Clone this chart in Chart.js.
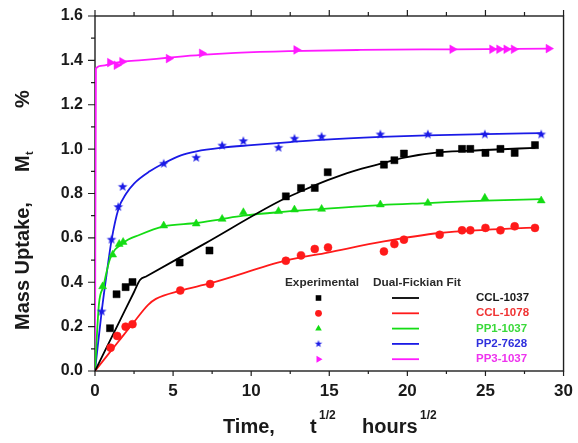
<!DOCTYPE html>
<html>
<head>
<meta charset="utf-8">
<title>Mass uptake vs sqrt(time)</title>
<script src="https://cdn.jsdelivr.net/npm/chart.js@4.4.0/dist/chart.umd.min.js"></script>
<style>
  html, body { margin: 0; padding: 0; background: #fff; }
  #wrap { width: 578px; height: 443px; position: relative; }
</style>
</head>
<body>
<div id="wrap"><canvas id="uptakeChart"></canvas></div>
<script>
// Experimental points: x = t^1/2 (hours^1/2), y = Mt (%)
const ccl1037X = [0.96, 1.38, 1.96, 2.40, 5.42, 7.33, 12.22, 13.19, 14.07, 14.90, 18.50, 19.17, 19.78, 22.07, 23.50, 24.03, 25.00, 25.96, 26.87, 28.17];
const ccl1037Y = [0.193, 0.346, 0.378, 0.401, 0.489, 0.543, 0.787, 0.825, 0.825, 0.896, 0.930, 0.950, 0.980, 0.983, 1.001, 1.001, 0.983, 1.001, 0.983, 1.018];

const ccl1078X = [1.00, 1.42, 1.96, 2.40, 5.46, 7.37, 12.22, 13.19, 14.07, 14.92, 18.50, 19.17, 19.78, 22.07, 23.50, 24.03, 25.00, 25.96, 26.87, 28.17];
const ccl1078Y = [0.105, 0.158, 0.200, 0.211, 0.363, 0.392, 0.497, 0.521, 0.550, 0.557, 0.539, 0.572, 0.592, 0.614, 0.634, 0.634, 0.645, 0.634, 0.652, 0.645];

const pp1X = [0.49, 1.13, 1.55, 1.80, 4.40, 6.48, 8.14, 9.50, 11.75, 12.77, 14.51, 18.27, 21.31, 24.96, 28.57];
const pp1Y = [0.381, 0.524, 0.572, 0.581, 0.655, 0.664, 0.685, 0.715, 0.720, 0.727, 0.730, 0.750, 0.757, 0.780, 0.768];

const pp2X = [0.43, 1.06, 1.49, 1.77, 4.40, 6.48, 8.14, 9.50, 11.75, 12.77, 14.51, 18.27, 21.31, 24.96, 28.57];
const pp2Y = [0.268, 0.592, 0.739, 0.830, 0.934, 0.961, 1.016, 1.036, 1.006, 1.047, 1.056, 1.066, 1.066, 1.066, 1.066];

const pp3X = [0.96, 1.38, 1.74, 4.72, 6.84, 12.89, 22.88, 25.43, 25.88, 26.34, 26.81, 29.04];
const pp3Y = [1.390, 1.378, 1.394, 1.408, 1.432, 1.447, 1.450, 1.450, 1.450, 1.450, 1.450, 1.453];

// Dual-Fickian fit curves
const ccl1037FitX = [0, 1.5, 2.5, 2.88, 3.3, 7, 11.8, 13.2, 14.9, 16.5, 18.5, 19.8, 22, 25, 28.2];
const ccl1037FitY = [0, 0.2135, 0.356, 0.41, 0.427, 0.573, 0.765, 0.81, 0.86, 0.90, 0.938, 0.962, 0.985, 0.996, 1.006];

const ccl1078FitX = [0, 1.5, 2.6, 3.4, 3.9, 5.45, 7.4, 12.2, 14.9, 18.5, 22.07, 25, 28.4];
const ccl1078FitY = [0, 0.133, 0.23, 0.298, 0.325, 0.362, 0.396, 0.497, 0.534, 0.584, 0.622, 0.636, 0.647];

const pp1FitX = [0, 0.25, 0.53, 0.96, 1.8, 2.87, 4.4, 6.5, 8.1, 9.5, 11.8, 14.5, 18.3, 21.3, 25, 28.6];
const pp1FitY = [0, 0.30, 0.38, 0.505, 0.577, 0.614, 0.652, 0.667, 0.685, 0.70, 0.716, 0.73, 0.748, 0.757, 0.768, 0.775];

const pp2FitX = [0, 0.43, 0.75, 1.06, 1.5, 2.0, 2.5, 3.5, 4.4, 5.5, 6.5, 8.1, 10, 12.5, 14.5, 18.3, 21.3, 25, 28.6];
const pp2FitY = [0, 0.27, 0.44, 0.59, 0.73, 0.80, 0.845, 0.90, 0.936, 0.972, 0.99, 1.006, 1.018, 1.032, 1.042, 1.055, 1.062, 1.068, 1.072];

const pp3FitX = [0, 0.06, 0.5, 1, 1.8, 3, 4.8, 6.8, 9, 12.4, 17, 23, 29];
const pp3FitY = [0, 1.364, 1.376, 1.384, 1.394, 1.401, 1.413, 1.425, 1.434, 1.442, 1.447, 1.450, 1.453];

const seriesNames = ['CCL-1037', 'CCL-1078', 'PP1-1037', 'PP2-7628', 'PP3-1037'];
const xTickValues = [0, 5, 10, 15, 20, 25, 30];
const yTickValues = [0, 0.2, 0.4, 0.6, 0.8, 1.0, 1.2, 1.4, 1.6];

const expX = [ccl1037X, ccl1078X, pp1X, pp2X, pp3X];
const expY = [ccl1037Y, ccl1078Y, pp1Y, pp2Y, pp3Y];
const fitX = [ccl1037FitX, ccl1078FitX, pp1FitX, pp2FitX, pp3FitX];
const fitY = [ccl1037FitY, ccl1078FitY, pp1FitY, pp2FitY, pp3FitY];

const lineColors = ['#000000', '#ff1a1a', '#14dc14', '#1a1ae6', '#ff1aff'];
const labelColors = ['#1a1a1a', '#f03434', '#3ad93a', '#3030dd', '#ee33ee'];
const FONT = "'Liberation Sans', Arial, Helvetica, sans-serif";

// filled five point star, used as a point image
function makeStar(outer, inner, color) {
    const size = Math.ceil(outer * 2) + 2;
    const c = document.createElement('canvas');
    c.width = size;
    c.height = size;
    const g = c.getContext('2d');
    g.fillStyle = color;
    g.beginPath();
    for (let i = 0; i < 10; i++) {
        const r = i % 2 === 0 ? outer : inner;
        const a = -Math.PI / 2 + i * Math.PI / 5;
        const px = size / 2 + r * Math.cos(a);
        const py = size / 2 + r * Math.sin(a);
        if (i === 0) g.moveTo(px, py); else g.lineTo(px, py);
    }
    g.closePath();
    g.fill();
    return c;
}

const starBig = makeStar(5, 2.1, lineColors[3]);
const starSmall = makeStar(3.9, 1.6, lineColors[3]);

const markers = [
    { style: 'rect', radius: 5, rotation: 0 },
    { style: 'circle', radius: 4, rotation: 0 },
    { style: 'triangle', radius: 4.6, rotation: 0 },
    { style: starBig, radius: 5, rotation: 0 },
    { style: 'triangle', radius: 5, rotation: 90 }
];

function toXY(xs, ys) {
    return xs.map((v, i) => ({ x: v, y: ys[i] }));
}

const datasets = [];
seriesNames.forEach((name, i) => {
    datasets.push({
        label: name + ' experimental',
        data: toXY(expX[i], expY[i]),
        showLine: false,
        pointStyle: markers[i].style,
        pointRadius: markers[i].radius,
        rotation: markers[i].rotation,
        backgroundColor: lineColors[i],
        borderColor: lineColors[i],
        borderWidth: 0.5
    });
});
seriesNames.forEach((name, i) => {
    datasets.push({
        label: name + ' fit',
        data: toXY(fitX[i], fitY[i]),
        showLine: true,
        pointRadius: 0,
        borderColor: lineColors[i],
        borderWidth: 1.8,
        cubicInterpolationMode: 'monotone',
        fill: false
    });
});

// small marker for the hand drawn legend
function drawMarker(ctx, i, x, y) {
    const color = lineColors[i];
    ctx.fillStyle = color;
    ctx.beginPath();
    if (i === 0) {
        ctx.rect(x - 2.8, y - 2.8, 5.6, 5.6);
    } else if (i === 1) {
        ctx.arc(x, y, 3.4, 0, Math.PI * 2);
    } else if (i === 2) {
        const r = 3.8;
        ctx.moveTo(x, y - r);
        ctx.lineTo(x + r * 0.866, y + r / 2);
        ctx.lineTo(x - r * 0.866, y + r / 2);
    } else if (i === 3) {
        ctx.drawImage(starSmall, x - starSmall.width / 2, y - starSmall.height / 2);
        return;
    } else {
        const r = 4;
        ctx.moveTo(x + r, y);
        ctx.lineTo(x - r / 2, y + r * 0.866);
        ctx.lineTo(x - r / 2, y - r * 0.866);
    }
    ctx.closePath();
    ctx.fill();
}

const framePlugin = {
    id: 'frame',
    beforeDatasetsDraw(chart) {
        const { ctx, chartArea: a, scales: { x, y } } = chart;
        ctx.save();
        ctx.strokeStyle = '#1e1e1e';
        ctx.lineWidth = 1.4;
        ctx.strokeRect(a.left, a.top, a.right - a.left, a.bottom - a.top);
        ctx.lineWidth = 1.2;
        ctx.beginPath();
        xTickValues.forEach((v, i) => {
            const px = x.getPixelForValue(v);
            ctx.moveTo(px, a.bottom);
            ctx.lineTo(px, a.bottom + 5);
            ctx.moveTo(px, a.top);
            ctx.lineTo(px, a.top - 6);
            if (i < xTickValues.length - 1) {
                const pm = x.getPixelForValue((v + xTickValues[i + 1]) / 2);
                ctx.moveTo(pm, a.bottom);
                ctx.lineTo(pm, a.bottom + 3);
                ctx.moveTo(pm, a.top);
                ctx.lineTo(pm, a.top - 4);
            }
        });
        yTickValues.forEach((v, i) => {
            const py = y.getPixelForValue(v);
            ctx.moveTo(a.left, py);
            ctx.lineTo(a.left - 7, py);
            if (i < yTickValues.length - 1) {
                const pm = y.getPixelForValue((v + yTickValues[i + 1]) / 2);
                ctx.moveTo(a.left, pm);
                ctx.lineTo(a.left - 4, pm);
            }
        });
        ctx.stroke();
        ctx.restore();
    },
    afterDraw(chart) {
        const ctx = chart.ctx;
        ctx.save();
        ctx.fillStyle = '#1a1a1a';
        ctx.textAlign = 'left';
        ctx.textBaseline = 'alphabetic';

        // y axis title, rotated
        ctx.save();
        ctx.translate(28.5, 330);
        ctx.rotate(-Math.PI / 2);
        ctx.font = 'bold 20px ' + FONT;
        ctx.fillText('Mass Uptake,', 0, 0);
        ctx.fillText('M', 158, 0);
        ctx.fillText('%', 222, 0);
        ctx.font = 'bold 11px ' + FONT;
        ctx.fillText('t', 175, 4);
        ctx.restore();

        // x axis title
        ctx.font = 'bold 20px ' + FONT;
        ctx.fillText('Time,', 223, 433);
        ctx.fillText('t', 310, 433);
        ctx.fillText('hours', 362, 433);
        ctx.font = 'bold 12px ' + FONT;
        ctx.fillText('1/2', 319, 419);
        ctx.fillText('1/2', 420, 419);

        // legend
        ctx.textBaseline = 'middle';
        ctx.fillStyle = '#2a2a2a';
        ctx.font = 'bold 11.8px ' + FONT;
        ctx.fillText('Experimental', 285, 283);
        ctx.fillText('Dual-Fickian Fit', 373, 283);
        ctx.font = 'bold 11.5px ' + FONT;
        seriesNames.forEach((name, i) => {
            const ry = 298 + i * 15.3;
            drawMarker(ctx, i, 318.5, ry);
            ctx.strokeStyle = lineColors[i];
            ctx.lineWidth = 1.8;
            ctx.beginPath();
            ctx.moveTo(392, ry);
            ctx.lineTo(419, ry);
            ctx.stroke();
            ctx.fillStyle = labelColors[i];
            ctx.fillText(name, 476, ry);
        });
        ctx.restore();
    }
};

new Chart(document.getElementById('uptakeChart'), {
    type: 'scatter',
    data: { datasets: datasets },
    options: {
        responsive: true,
        maintainAspectRatio: false,
        animation: false,
        events: [],
        layout: { padding: { left: 0, right: 12, top: 16, bottom: 0 } },
        plugins: {
            legend: { display: false },
            tooltip: { enabled: false }
        },
        scales: {
            x: {
                type: 'linear',
                min: 0,
                max: 30,
                afterBuildTicks: scale => { scale.ticks = xTickValues.map(v => ({ value: v })); },
                afterFit: scale => { scale.height = 72; },
                grid: { display: false, drawTicks: true, tickLength: 5 },
                border: { display: false },
                ticks: {
                    padding: 5,
                    color: '#1a1a1a',
                    font: { family: FONT, size: 17, weight: 'bold' },
                    maxRotation: 0
                }
            },
            y: {
                type: 'linear',
                min: 0,
                max: 1.6,
                afterBuildTicks: scale => { scale.ticks = yTickValues.map(v => ({ value: v })); },
                afterFit: scale => { scale.width = 95; },
                grid: { display: false, drawTicks: true, tickLength: 7 },
                border: { display: false },
                ticks: {
                    padding: 5,
                    color: '#1a1a1a',
                    font: { family: FONT, size: 16, weight: 'bold' },
                    callback: v => v.toFixed(1)
                }
            }
        }
    },
    plugins: [framePlugin]
});
</script>
</body>
</html>
